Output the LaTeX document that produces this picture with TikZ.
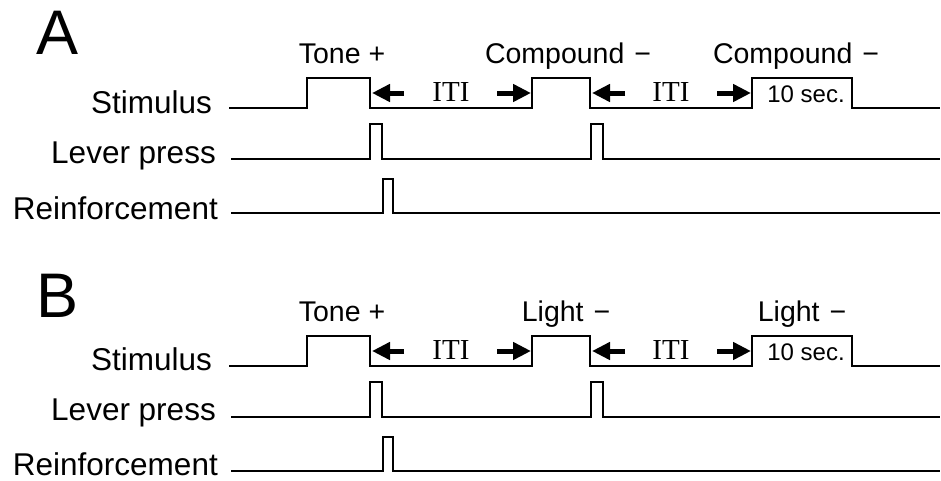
\documentclass[tikz,border=0pt]{standalone}
\usepackage{fontspec}
\setmainfont{Liberation Sans}
\newfontfamily\itifont{Liberation Serif}
\usetikzlibrary{arrows.meta}

\tikzset{
  wave/.style={line width=1.6pt, line join=miter},
  itiarrow/.style={line width=5pt, -{Triangle[length=18pt,width=17pt]}},
  rowlabel/.style={anchor=base east, inner sep=0pt, font=\fontsize{31.5}{37}\selectfont},
  cue/.style={anchor=base, inner sep=0pt, font=\fontsize{28.5}{34}\selectfont},
  iti/.style={anchor=base, inner sep=0pt, font=\itifont\fontsize{29}{34}\selectfont},
  dur/.style={anchor=base, inner sep=0pt, font=\fontsize{24}{29}\selectfont},
  panel/.style={inner sep=0pt, font=\fontsize{63}{70}\selectfont}
}
\newcommand{\cueminus}{\hspace{2pt}−}

\begin{document}
\begin{tikzpicture}[x=1pt,y=-1pt]
  \useasboundingbox (0,0) rectangle (941,480);

  % panel A
  \node[panel] (panA) at (58,32.5) {A};
  \node[rowlabel] (stimA) at (212,113) {Stimulus};
  \node[rowlabel] (leverA) at (216,163) {Lever press};
  \node[rowlabel] (reinfA) at (218,219) {Reinforcement};
  \node[cue] (toneA) at (342,63) {Tone +};
  \node[cue] (compA1) at (568,63) {Compound \cueminus};
  \node[cue] (compA2) at (796,63) {Compound \cueminus};
  \draw[wave] (229,108) -- (307,108) -- (307,78) -- (370,78) -- (370,108) -- (532,108)
    -- (532,78) -- (590,78) -- (590,108) -- (752,108) -- (752,78) -- (852,78) -- (852,108) -- (940,108);
  \draw[wave] (231,159) -- (370,159) -- (370,124) -- (382,124) -- (382,159) -- (591,159)
    -- (591,124) -- (603,124) -- (603,159) -- (940,159);
  \draw[wave] (231,213) -- (383,213) -- (383,179) -- (393,179) -- (393,213) -- (940,213);
  \node[iti] (itiA1) at (451,101) {ITI};
  \node[iti] (itiA2) at (671,101) {ITI};
  \node[dur] (durA) at (806,102) {10 sec.};
  \coordinate (a1) at (404,93);
  \coordinate (a2) at (372,93);
  \coordinate (a3) at (497,93);
  \coordinate (a4) at (531,93);
  \coordinate (a5) at (625,93);
  \coordinate (a6) at (592,93);
  \coordinate (a7) at (717,93);
  \coordinate (a8) at (751,93);
  \draw[itiarrow] (a1) -- (a2);
  \draw[itiarrow] (a3) -- (a4);
  \draw[itiarrow] (a5) -- (a6);
  \draw[itiarrow] (a7) -- (a8);

  % panel B
  \node[panel] (panB) at (58,295.5) {B};
  \begin{scope}[shift={(0,258)}]
    \node[rowlabel] (stimB) at (212,112) {Stimulus};
    \node[rowlabel] (leverB) at (216,162) {Lever press};
    \node[rowlabel] (reinfB) at (218,217) {Reinforcement};
    \node[cue] (toneB) at (342,63) {Tone +};
    \node[cue] (lightB1) at (566,63) {Light \cueminus};
    \node[cue] (lightB2) at (802,63) {Light \cueminus};
    \draw[wave] (229,108) -- (307,108) -- (307,78) -- (370,78) -- (370,108) -- (532,108)
      -- (532,78) -- (590,78) -- (590,108) -- (752,108) -- (752,78) -- (852,78) -- (852,108) -- (940,108);
    \draw[wave] (231,159) -- (370,159) -- (370,124) -- (382,124) -- (382,159) -- (591,159)
      -- (591,124) -- (603,124) -- (603,159) -- (940,159);
    \draw[wave] (231,213) -- (383,213) -- (383,179) -- (393,179) -- (393,213) -- (940,213);
    \node[iti] (itiB1) at (451,101) {ITI};
    \node[iti] (itiB2) at (671,101) {ITI};
    \node[dur] (durB) at (806,102) {10 sec.};
    \coordinate (b1) at (404,93);
    \coordinate (b2) at (372,93);
    \coordinate (b3) at (497,93);
    \coordinate (b4) at (531,93);
    \coordinate (b5) at (625,93);
    \coordinate (b6) at (592,93);
    \coordinate (b7) at (717,93);
    \coordinate (b8) at (751,93);
    \draw[itiarrow] (b1) -- (b2);
    \draw[itiarrow] (b3) -- (b4);
    \draw[itiarrow] (b5) -- (b6);
    \draw[itiarrow] (b7) -- (b8);
  \end{scope}
\end{tikzpicture}
\end{document}
